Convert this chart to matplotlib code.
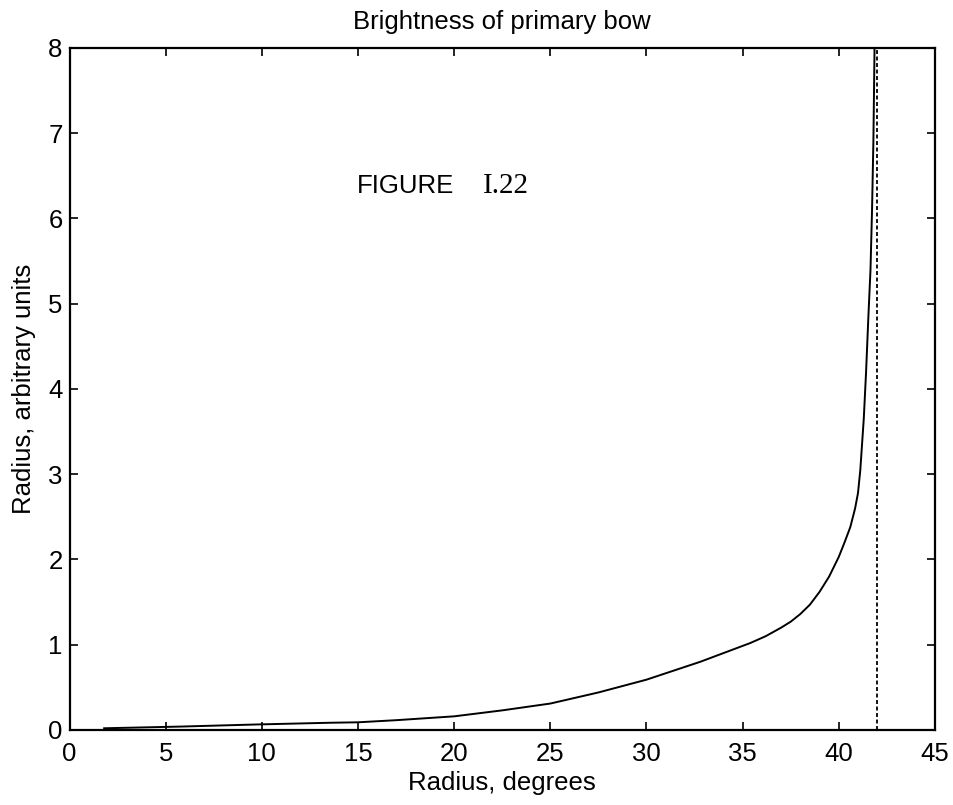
import matplotlib.pyplot as plt

plt.rcParams["font.family"] = ["Liberation Sans", "DejaVu Sans"]

# brightness curve
radius_deg = [1.8, 5.8, 9.8, 13.6, 15.0, 17.0, 20.0, 22.5, 25.0, 27.5, 30.0,
              32.8, 35.4, 36.2, 37.0, 37.5, 38.0, 38.5, 39.0, 39.5, 40.0,
              40.3, 40.6, 40.85, 41.0, 41.12, 41.18, 41.3, 41.42, 41.54,
              41.65, 41.73, 41.80, 41.86]
brightness = [0.02, 0.04, 0.065, 0.085, 0.09, 0.115, 0.16, 0.23, 0.31, 0.44, 0.59,
              0.80, 1.02, 1.10, 1.20, 1.27, 1.36, 1.47, 1.62, 1.80, 2.03,
              2.20, 2.38, 2.60, 2.78, 3.05, 3.25, 3.65, 4.20, 4.85,
              5.40, 6.10, 6.90, 8.0]
rainbow_angle = 42.0

fig = plt.figure(figsize=(9.54, 8.05), dpi=100)
ax = fig.add_axes([0.0729, 0.0932, 0.9071, 0.8472])

ax.plot(radius_deg, brightness, color="black", linewidth=1.4)
ax.axvline(rainbow_angle, color="black", linewidth=1.3, linestyle=(0, (2.2, 1.4)))

ax.set_xlim(0, 45)
ax.set_ylim(0, 8)
ax.set_xticks(range(0, 46, 5))
ax.set_yticks(range(0, 9))
ax.tick_params(direction="in", length=6, width=1.2, top=True, right=True,
               labelsize=18.5)
ax.tick_params(axis="x", pad=9)
ax.tick_params(axis="y", pad=5)
for s in ax.spines.values():
    s.set_linewidth(1.6)

ax.set_title("Brightness of primary bow", fontsize=18.5, pad=14)
ax.set_xlabel("Radius, degrees", fontsize=18.5, labelpad=3)
ax.set_ylabel("Radius, arbitrary units", fontsize=18.5, labelpad=9)

ax.text(14.95, 6.30, "FIGURE", fontsize=18.5, ha="left", va="baseline")
ax.text(21.5, 6.30, "I.22", fontsize=21, ha="left", va="baseline",
        family=["Liberation Serif", "DejaVu Serif"])

fig.savefig("out.png", dpi=100)
